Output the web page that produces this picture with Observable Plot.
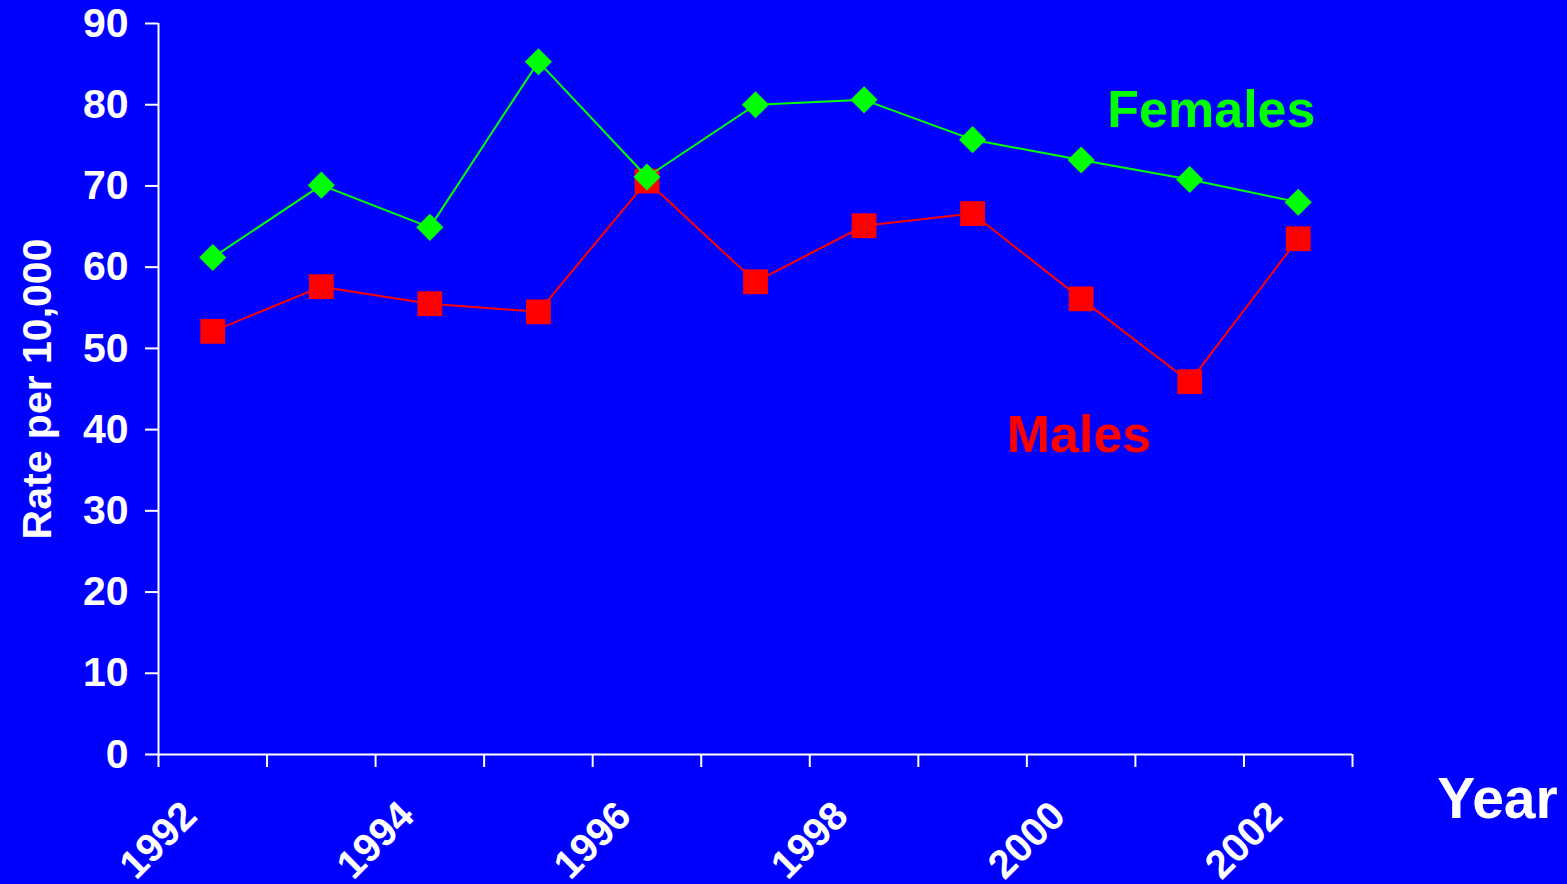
<!DOCTYPE html>
<html>
<head>
<meta charset="utf-8">
<script src="https://cdn.jsdelivr.net/npm/d3@7"></script>
<script src="https://cdn.jsdelivr.net/npm/@observablehq/plot@0.6"></script>
<style>
  html, body { margin: 0; padding: 0; background: #0000ff; }
  #chart { width: 1567px; height: 884px; }
</style>
</head>
<body>
<div id="chart"></div>
<script>
// ---- data ----
const years = [1992, 1993, 1994, 1995, 1996, 1997, 1998, 1999, 2000, 2001, 2002];
const females = [61.2, 70.1, 64.9, 85.3, 71.1, 80.0, 80.6, 75.7, 73.2, 70.8, 68.0];
const males = [52.1, 57.6, 55.5, 54.5, 70.6, 58.2, 65.1, 66.6, 56.1, 45.9, 63.5];
const xTickYears = [1992, 1993, 1994, 1995, 1996, 1997, 1998, 1999, 2000, 2001, 2002, 2003];
const xLabelYears = [1992, 1994, 1996, 1998, 2000, 2002];
const yTicks = [0, 10, 20, 30, 40, 50, 60, 70, 80, 90];

const rows = years.map((year, i) => ({year, females: females[i], males: males[i]}));
const mid = d => d.year + 0.5; // each year's value sits in the middle of its interval

const font = "'Liberation Sans', Arial, Helvetica, sans-serif";
const white = "#ffffff";
const green = "#00ff00";
const red = "#ff0000";

const chart = Plot.plot({
  width: 1567,
  height: 884,
  marginLeft: 158,
  marginRight: 215,
  marginTop: 23,
  marginBottom: 130,
  style: {background: "#0000ff", fontFamily: font, overflow: "visible"},
  x: {domain: [1992, 2003]},
  y: {domain: [0, 90]},
  marks: [
    // axes lines
    Plot.ruleX([1992], {stroke: white, strokeWidth: 2}),
    Plot.ruleY([0], {stroke: white, strokeWidth: 2}),
    Plot.axisY({
      ticks: yTicks, tickSize: 13, tickPadding: 17, label: null,
      color: white, strokeWidth: 2, fontSize: 41, fontWeight: "bold", fontFamily: font
    }),
    Plot.axisX({
      ticks: xTickYears, tickSize: 13, tickFormat: () => "", label: null,
      color: white, strokeWidth: 2
    }),
    // rotated year labels
    Plot.text(xLabelYears, {
      x: d => d, text: d => String(d), frameAnchor: "bottom", dy: 86,
      rotate: -45, textAnchor: "middle", lineAnchor: "middle",
      fill: white, fontSize: 40, fontWeight: "bold", fontFamily: font
    }),
    // axis titles
    Plot.text(["Rate per 10,000"], {
      text: d => d, frameAnchor: "left", dx: -108, rotate: -90,
      textAnchor: "middle", lineAnchor: "bottom",
      fill: white, fontSize: 41, fontWeight: "bold", fontFamily: font
    }),
    Plot.text(["Year"], {
      text: d => d, frameAnchor: "bottom-right", dx: 145, dy: 63,
      textAnchor: "middle", lineAnchor: "bottom",
      fill: white, fontSize: 57, fontWeight: "bold", fontFamily: font
    }),
    // males series
    Plot.line(rows, {x: mid, y: "males", stroke: red, strokeWidth: 2}),
    Plot.dot(rows, {x: mid, y: "males", symbol: "square", r: 14, fill: red, stroke: "none"}),
    // females series
    Plot.line(rows, {x: mid, y: "females", stroke: green, strokeWidth: 2}),
    Plot.dot(rows, {x: mid, y: "females", symbol: "diamond2", r: 12.2, fill: green, stroke: "none"}),
    // series labels
    Plot.text(["Females"], {
      text: d => d, x: 2001.7, y: 77.2, textAnchor: "middle", lineAnchor: "bottom",
      fill: green, fontSize: 52, fontWeight: "bold", fontFamily: font
    }),
    Plot.text(["Males"], {
      text: d => d, x: 2000.48, y: 37.2, textAnchor: "middle", lineAnchor: "bottom",
      fill: red, fontSize: 52, fontWeight: "bold", fontFamily: font
    })
  ]
});
document.getElementById("chart").appendChild(chart);
</script>
</body>
</html>
